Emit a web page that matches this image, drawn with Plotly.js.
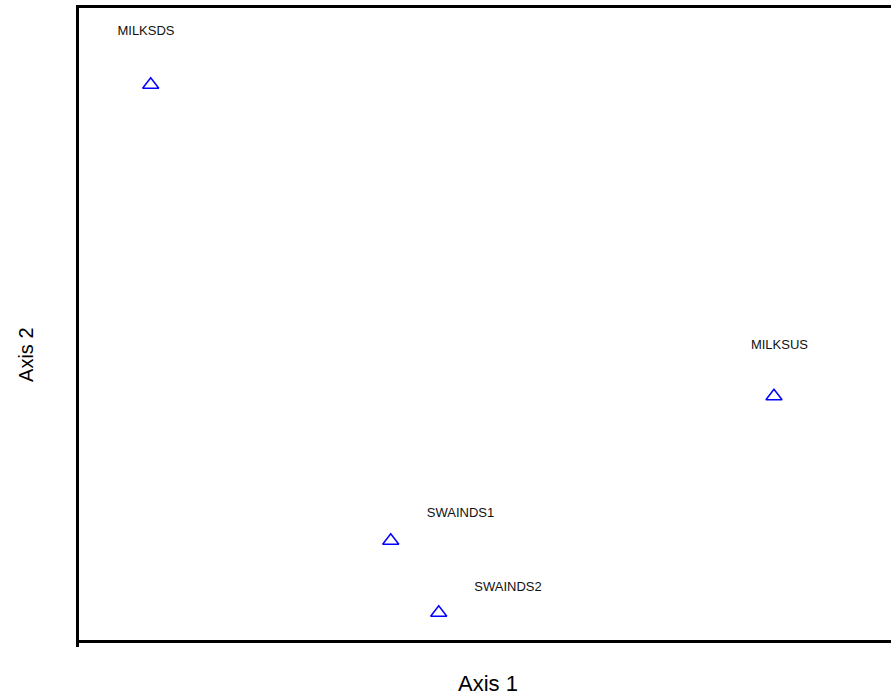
<!DOCTYPE html>
<html>
<head>
<meta charset="utf-8">
<script src="https://cdn.plot.ly/plotly-3.0.1.min.js"></script>
<style>html,body{margin:0;padding:0;background:#fff;}#chart{width:891px;height:700px;}</style>
</head>
<body>
<div id="chart"></div>
<script>
// Sample units
const names = ["MILKSDS", "SWAINDS1", "SWAINDS2", "MILKSUS"];
// Ordination scores (arbitrary units)
const axis1 = [8.83, 38.39, 44.30, 85.59];
const axis2 = [87.86, 15.70, 4.31, 38.57];
// Label anchor positions (same data units)
const labelAxis1 = [8.25, 46.98, 52.83, 86.26];
const labelAxis2 = [96.2, 20.05, 8.34, 46.52];

const points = {
  x: axis1, y: axis2, type: "scatter", mode: "markers",
  marker: {symbol: "triangle-up-open", size: 14, color: "#0000ff", line: {color: "#0000ff", width: 1.5}},
  hoverinfo: "skip", showlegend: false
};
const labels = {
  x: labelAxis1, y: labelAxis2, text: names, type: "scatter", mode: "text",
  textposition: "middle center",
  textfont: {family: "Liberation Sans, Arial, sans-serif", size: 13, color: "#111"},
  hoverinfo: "skip", showlegend: false
};

const plotW = 891 - 79, plotH = 700 - 8 - 60;
const layout = {
  width: 891, height: 700,
  margin: {l: 79, r: 0, t: 8, b: 60},
  paper_bgcolor: "#fff", plot_bgcolor: "#fff",
  showlegend: false,
  xaxis: {range: [0, 100], showgrid: false, zeroline: false, showline: true, mirror: true,
          linecolor: "#000", linewidth: 3, showticklabels: false, ticks: ""},
  yaxis: {range: [0, 100], showgrid: false, zeroline: false, showline: true,
          linecolor: "#000", linewidth: 3, showticklabels: false, ticks: ""},
  shapes: [
    {type: "line", xref: "paper", yref: "paper", x0: -1.5 / plotW, x1: -1.5 / plotW, y0: 0, y1: -7 / plotH,
     line: {color: "#000", width: 3}}
  ],
  annotations: [
    {text: "Axis 1", xref: "paper", yref: "paper", x: 0.5037, y: -0.0696, xanchor: "center", yanchor: "middle",
     showarrow: false, font: {family: "Liberation Sans, Arial, sans-serif", size: 22, color: "#000"}},
    {text: "Axis 2", xref: "paper", yref: "paper", x: -0.0653, y: 0.451, xanchor: "center", yanchor: "middle",
     textangle: -90, showarrow: false, font: {family: "Liberation Sans, Arial, sans-serif", size: 20, color: "#000"}}
  ]
};

Plotly.newPlot("chart", [points, labels], layout, {displayModeBar: false, staticPlot: true});
</script>
</body>
</html>
